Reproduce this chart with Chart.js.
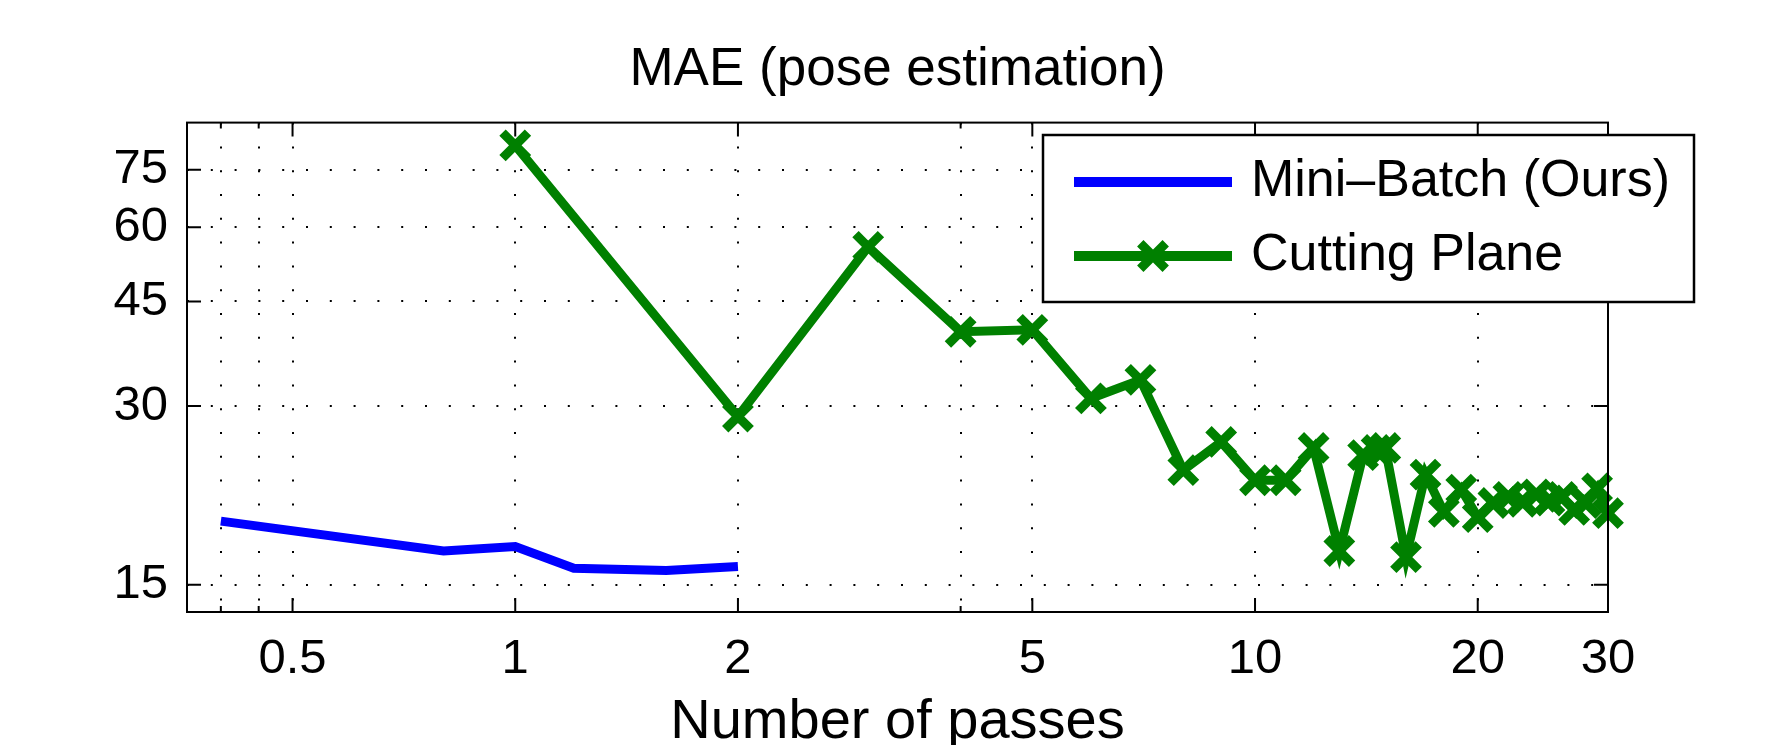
<!DOCTYPE html>
<html>
<head>
<meta charset="utf-8">
<script src="https://cdn.jsdelivr.net/npm/chart.js@4.4.1/dist/chart.umd.min.js"></script>
<style>
  html, body { margin: 0; padding: 0; background: #fff; }
</style>
</head>
<body>
<canvas id="maeChart" width="1775" height="745"></canvas>
<script>
// values (log-log axes)
const passesMini = [0.4, 0.8, 1.0, 1.2, 1.6, 2.0];
const maeMini = [19.2, 17.1, 17.4, 16.0, 15.85, 16.1];

const passesCutting = [1, 2, 3, 4, 5, 6, 7, 8, 9, 10, 11, 12, 13, 14, 14.6, 15, 16, 17, 18, 19, 20,
                       21, 22, 23, 24, 25, 26, 27, 28, 29, 30];
const maeCutting = [82.4, 28.8, 55.6, 40.0, 40.3, 30.9, 33.2, 23.4, 26.1, 22.5, 22.5, 25.5, 17.1, 24.8, 25.3, 25.5, 16.7, 23.0, 19.9, 21.7, 19.5,
                    20.6, 21.1, 20.7, 21.3, 20.8, 21.1, 20.05, 20.6, 21.8, 19.8];

const xTicks = [0.4, 0.45, 0.5, 1, 2, 4, 5, 10, 20, 30];
const xLabeled = [0.5, 1, 2, 5, 10, 20, 30];
const yTicks = [15, 30, 45, 60, 75];

const FONT = '"Liberation Sans", Arial, Helvetica, sans-serif';

// matlab style box with inward ticks on all four sides
const matlabFrame = {
    id: 'matlabFrame',
    afterDatasetsDraw(chart) {
        const { ctx, chartArea: a, scales: { x, y } } = chart;
        ctx.save();
        ctx.strokeStyle = '#000';
        ctx.lineWidth = 2;
        ctx.beginPath();
        x.ticks.forEach(t => {
            const px = x.getPixelForValue(t.value);
            const len = xLabeled.includes(t.value) ? 14 : 6;
            ctx.moveTo(px, a.bottom); ctx.lineTo(px, a.bottom - len);
            ctx.moveTo(px, a.top); ctx.lineTo(px, a.top + len);
        });
        y.ticks.forEach(t => {
            const py = y.getPixelForValue(t.value);
            ctx.moveTo(a.left, py); ctx.lineTo(a.left + 14, py);
            ctx.moveTo(a.right, py); ctx.lineTo(a.right - 14, py);
        });
        ctx.stroke();
        ctx.strokeRect(a.left, a.top, a.right - a.left, a.bottom - a.top);
        ctx.restore();
    }
};

// legend box sitting over the top right corner of the axes
const boxLegend = {
    id: 'boxLegend',
    afterDraw(chart) {
        const ctx = chart.ctx;
        const bx = 1043, by = 135, bw = 651, bh = 167;
        const rows = [182, 256];
        ctx.save();
        ctx.fillStyle = '#fff';
        ctx.fillRect(bx, by, bw, bh);
        ctx.strokeStyle = '#000';
        ctx.lineWidth = 2.5;
        ctx.strokeRect(bx, by, bw, bh);
        chart.data.datasets.forEach((ds, i) => {
            const ly = rows[i];
            ctx.strokeStyle = ds.borderColor;
            ctx.lineWidth = 10;
            ctx.beginPath();
            ctx.moveTo(1074, ly);
            ctx.lineTo(1232, ly);
            ctx.stroke();
            if (ds.pointRadius > 0) {
                ctx.lineWidth = ds.pointBorderWidth;
                Chart.helpers.drawPoint(ctx, {
                    pointStyle: ds.pointStyle, radius: ds.pointRadius,
                    rotation: 0, borderWidth: ds.pointBorderWidth
                }, 1153, ly);
            }
            ctx.fillStyle = '#000';
            ctx.font = '52px ' + FONT;
            ctx.textBaseline = 'middle';
            ctx.textAlign = 'left';
            ctx.fillText(ds.label, 1251, ly);
        });
        ctx.restore();
    }
};

const tickFont = { family: FONT, size: 49 };

new Chart(document.getElementById('maeChart'), {
    type: 'line',
    data: {
        datasets: [{
            label: 'Mini–Batch (Ours)',
            data: passesMini.map((p, i) => ({ x: p, y: maeMini[i] })),
            borderColor: '#0000ff',
            borderWidth: 9,
            pointRadius: 0,
            fill: false
        }, {
            label: 'Cutting Plane',
            data: passesCutting.map((p, i) => ({ x: p, y: maeCutting[i] })),
            borderColor: '#008000',
            borderWidth: 9,
            pointStyle: 'crossRot',
            pointRadius: 18,
            pointBorderWidth: 9,
            pointBorderColor: '#008000',
            pointBackgroundColor: '#008000',
            clip: false,
            fill: false
        }]
    },
    options: {
        responsive: false,
        animation: false,
        devicePixelRatio: 1,
        layout: { padding: { left: 0, right: 167, top: 0, bottom: 0 } },
        plugins: {
            legend: { display: false },
            tooltip: { enabled: false },
            title: {
                display: true,
                text: 'MAE (pose estimation)',
                color: '#000',
                fullSize: false,
                font: { family: FONT, size: 53, weight: 'normal' },
                padding: { top: 39, bottom: 20 }
            }
        },
        scales: {
            x: {
                type: 'logarithmic',
                position: 'bottom',
                min: 0.36,
                max: 30,
                afterBuildTicks: s => { s.ticks = xTicks.map(v => ({ value: v })); },
                afterFit: s => { s.height = 133; },
                ticks: {
                    color: '#000',
                    font: tickFont,
                    padding: 18,
                    maxRotation: 0,
                    autoSkip: false,
                    callback: v => xLabeled.includes(v) ? String(v) : ''
                },
                grid: { color: '#000', lineWidth: 2, drawTicks: false },
                border: { display: false, dash: [2, 21.8] },
                title: {
                    display: true,
                    text: 'Number of passes',
                    color: '#000',
                    font: { family: FONT, size: 56, lineHeight: 0.8 },
                    padding: 0
                }
            },
            y: {
                type: 'logarithmic',
                min: 13.5,
                max: 90,
                afterBuildTicks: s => { s.ticks = yTicks.map(v => ({ value: v })); },
                afterFit: s => { s.width = 187; },
                ticks: {
                    color: '#000',
                    font: tickFont,
                    padding: 19,
                    autoSkip: false,
                    callback: v => String(v)
                },
                grid: { color: '#000', lineWidth: 2, drawTicks: false },
                border: { display: false, dash: [2, 21.8] }
            }
        }
    },
    plugins: [matlabFrame, boxLegend]
});
</script>
</body>
</html>
